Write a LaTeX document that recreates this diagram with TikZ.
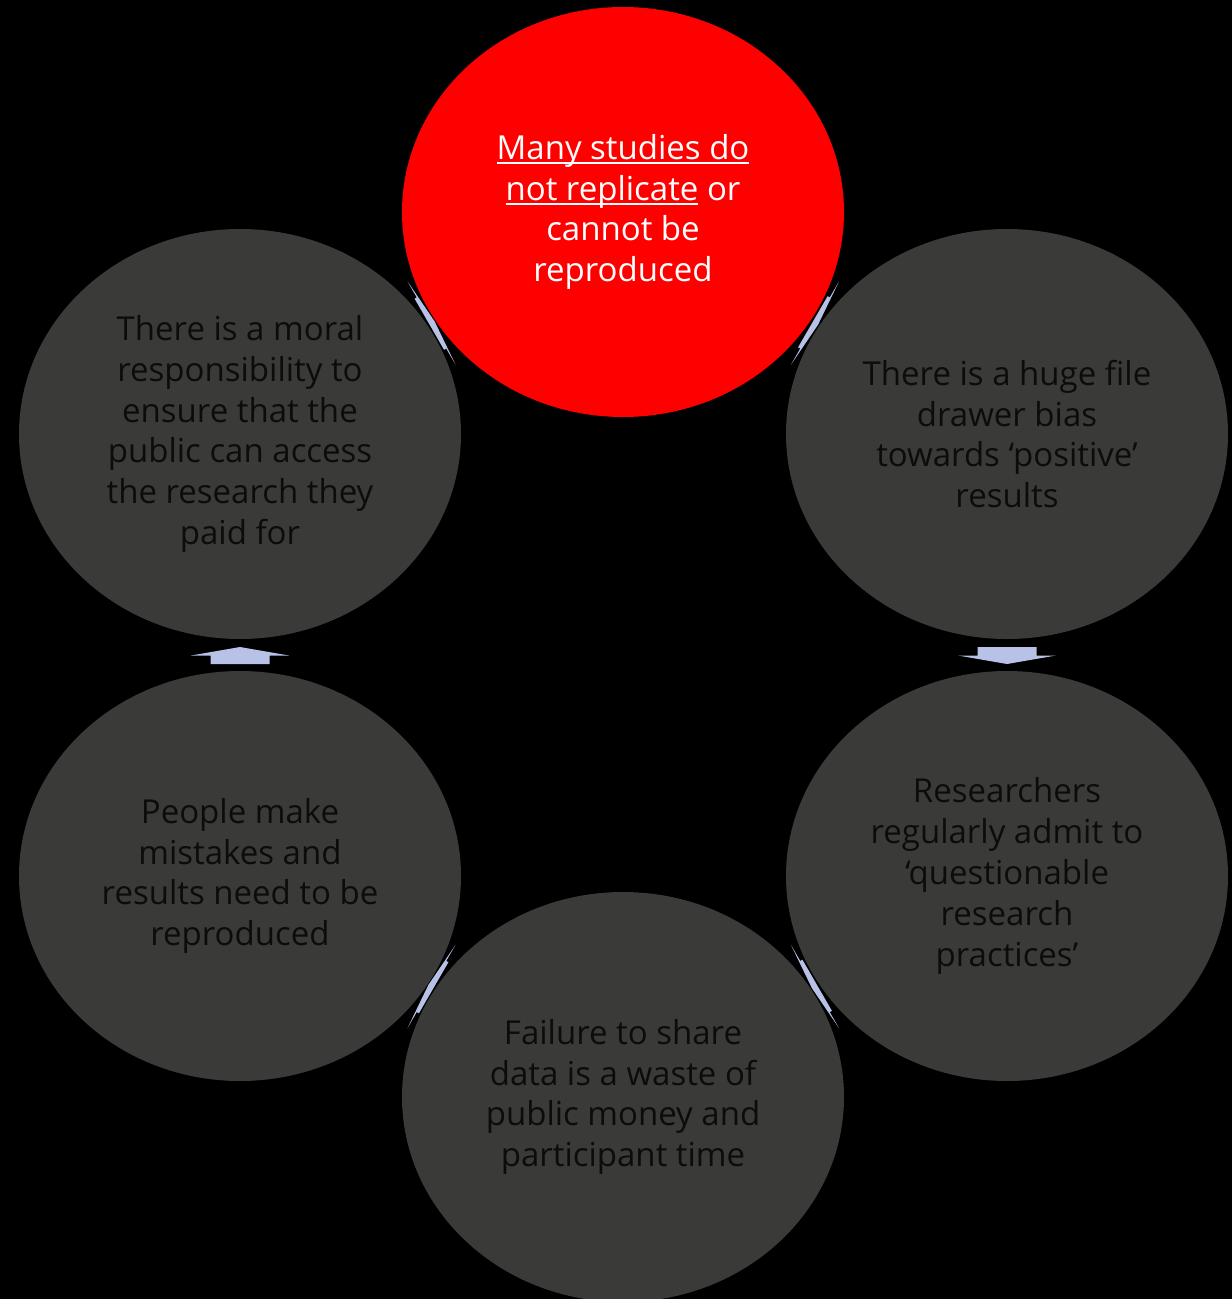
\documentclass[tikz,border=0pt]{standalone}
\usepackage{fontspec}
\setmainfont{Open Sans}
\usetikzlibrary{shapes.geometric,calc}
\definecolor{circgray}{HTML}{3A3A38}
\definecolor{circtext}{HTML}{0C0C0C}
\definecolor{arrowfill}{HTML}{B7C2E6}
\newcommand{\ulmark}[1]{{\setbox0\hbox{#1}\rlap{\rule[-5pt]{\wd0}{2pt}}\box0}}
\tikzset{
  bubble/.style={ellipse, inner sep=0pt, minimum width=442pt, minimum height=410pt,
    fill=circgray, text=circtext, align=center,
    font=\fontsize{33}{40.8}\selectfont},
  redbubble/.style={bubble, fill=red, text=white},
  flatarrow/.pic={\fill[arrowfill] (-8.5,-29.5) -- (0,-29.5) -- (0,-49) -- (8.5,0) -- (0,49) -- (0,29.5) -- (-8.5,29.5) -- cycle;},
  thinarrow/.pic={\fill[arrowfill] (-2.5,-29.5) -- (0,-29.5) -- (0,-48) -- (3.5,0) -- (0,48) -- (0,29.5) -- (-2.5,29.5) -- cycle;}
}
\begin{document}
\begin{tikzpicture}[x=1pt,y=-1pt]
\fill[black] (0,0) rectangle (1232,1299);
\useasboundingbox (0,0) rectangle (1232,1299);
\node[redbubble] (top) at (623,212) {\ulmark{Many studies do}\\\ulmark{not replicate} or\\cannot be\\reproduced};
\node[bubble] (tr) at (1007,434) {There is a huge file\\drawer bias\\towards ‘positive’\\results};
\node[bubble] (br) at (1007,876) {Researchers\\regularly admit to\\‘questionable\\research\\practices’};
\node[bubble] (bot) at (623,1097) {Failure to share\\data is a waste of\\public money and\\participant time};
\node[bubble] (bl) at (240,876) {People make\\mistakes and\\results need to be\\reproduced};
\node[bubble] (tl) at (240,434) {There is a moral\\responsibility to\\ensure that the\\public can access\\the research they\\paid for};
\pic[rotate=-30] at ($(top)!0.5!(tr)$) {thinarrow};
\pic[rotate=-90] at ($(tr)!0.5!(br)+(0,0.5)$) {flatarrow};
\pic[rotate=-150] at ($(br)!0.5!(bot)$) {thinarrow};
\pic[rotate=150] at ($(bot)!0.5!(bl)$) {thinarrow};
\pic[rotate=90] at ($(bl)!0.5!(tl)+(0,0.5)$) {flatarrow};
\pic[rotate=30] at ($(tl)!0.5!(top)$) {thinarrow};
\end{tikzpicture}
\end{document}
